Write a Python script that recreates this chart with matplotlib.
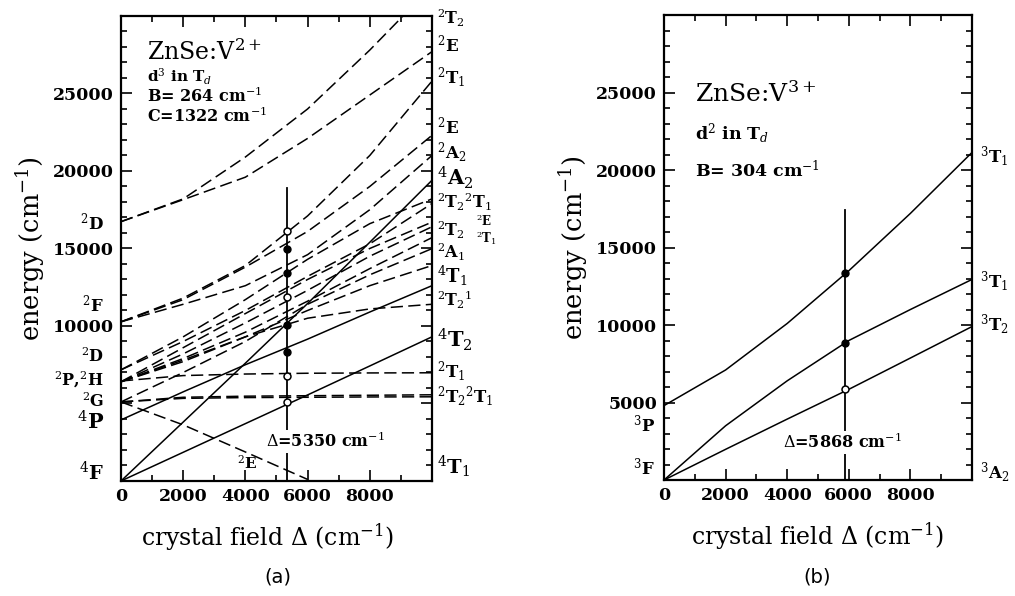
import matplotlib
matplotlib.use("Agg")
import matplotlib.pyplot as plt
from matplotlib.ticker import MultipleLocator

plt.rcParams["font.family"] = "DejaVu Serif"
plt.rcParams["mathtext.fontset"] = "dejavuserif"

# ---- panel (a): ZnSe:V2+, d3 in Td ----
xa = [0, 2000, 4000, 6000, 8000, 10000]
# quartets (solid)
a_4T2 = [0, 1850, 3700, 5550, 7420, 9300]
a_4A2 = [0, 3800, 7600, 11450, 15400, 19400]
a_4T1P = [3940, 5750, 7500, 9150, 10900, 12600]
# doublets (dashed)
xa_top = [0, 2000, 4000, 6000, 8000, 9070]
a_D2_T2 = [16730, 18200, 20900, 24000, 27800, 30000]
a_D2_E = [16730, 18150, 19600, 22100, 24900, 27700]
a_F_T1 = [10270, 11800, 13900, 17100, 21000, 25800]
a_F_E = [10270, 11700, 13800, 16100, 19000, 22300]
a_F_A2 = [10270, 11400, 12600, 14600, 17500, 21000]
a_D_T2 = [7170, 9300, 11700, 14300, 16600, 18200]
a_D_E = [7170, 9000, 11000, 13200, 15300, 17900]
a_H_T1 = [6400, 8600, 10800, 13000, 15000, 16700]
a_H_T2 = [6400, 8200, 10200, 12300, 14500, 16400]
a_H_E = [6400, 7900, 9600, 11600, 13700, 15700]
a_G_A1 = [5100, 7000, 9000, 11400, 13300, 14990]
a_H_T1b = [6400, 7700, 9300, 11000, 12600, 13900]
a_P_T1 = [6400, 7800, 9300, 10500, 11100, 11400]
a_flat_T1 = [6450, 6800, 6900, 6950, 6970, 6980]
a_G_T2 = [5100, 5400, 5470, 5500, 5530, 5560]
a_G_T1 = [5100, 5330, 5380, 5400, 5420, 5430]
xa_fall = [0, 2000, 4000, 6000]
a_G_E = [5100, 3620, 1870, 100]
a_delta = 5350
a_open = [16150, 11850, 6780, 5100]
a_filled = [14990, 13440, 10080, 8300]

# ---- panel (b): ZnSe:V3+, d2 in Td ----
xb = [0, 2000, 4000, 6000, 8000, 10000]
b_3T2 = [0, 1980, 3930, 5850, 7870, 9900]
b_3T1F = [0, 3500, 6400, 9000, 11000, 12940]
b_3T1P = [4800, 7100, 10100, 13500, 17200, 21130]
b_delta = 5868
b_open = [5840]
b_filled = [13330, 8870]

fig = plt.figure(figsize=(10.15, 5.96), dpi=100)
ax1 = fig.add_axes([0.1192, 0.1930, 0.3064, 0.7802])
ax2 = fig.add_axes([0.6542, 0.1946, 0.3034, 0.7802])

solid = dict(color="black", lw=1.1)
dash = dict(color="black", lw=1.1, dashes=(8, 3.5))

for ax in (ax1, ax2):
    ax.set_xlim(0, 10000)
    ax.set_ylim(0, 30000)
    ax.xaxis.set_major_locator(MultipleLocator(2000))
    ax.xaxis.set_minor_locator(MultipleLocator(1000))
    ax.yaxis.set_major_locator(MultipleLocator(5000))
    ax.yaxis.set_minor_locator(MultipleLocator(1000))
    ax.tick_params(which="both", direction="in", top=True, right=True, width=1.2)
    ax.tick_params(which="major", length=8, labelsize=12.5, pad=5)
    ax.tick_params(which="minor", length=4)
    ax.set_xticks([0, 2000, 4000, 6000, 8000])
    for sp in ax.spines.values():
        sp.set_linewidth(1.6)
    ax.set_xlabel(r"crystal field $\Delta$ (cm$^{-1}$)", fontsize=17, labelpad=12)
    ax.set_ylabel(r"energy (cm$^{-1}$)", fontsize=18.5, labelpad=4)
ax1.xaxis.label.set_x(0.47)

ax1.set_yticks([0, 5000, 10000, 15000, 20000, 25000])
ax1.set_yticklabels(["", "", "10000", "15000", "20000", "25000"])
ax2.set_yticks([5000, 10000, 15000, 20000, 25000])
for ax in (ax1, ax2):
    for lab in ax.get_xticklabels() + ax.get_yticklabels():
        lab.set_fontweight("bold")

# panel (a) curves
for ys in (a_4T2, a_4A2, a_4T1P):
    ax1.plot(xa, ys, **solid)
ax1.plot(xa_top, a_D2_T2, **dash)
for ys in (a_D2_E, a_F_T1, a_F_E, a_F_A2, a_D_T2, a_D_E, a_H_T1, a_H_T2,
           a_H_E, a_G_A1, a_H_T1b, a_P_T1, a_flat_T1, a_G_T2, a_G_T1):
    ax1.plot(xa, ys, **dash)
ax1.plot(xa_fall, a_G_E, **dash)

ax1.plot([a_delta, a_delta], [0, 18930], color="black", lw=1.3)
ax1.plot([a_delta] * len(a_open), a_open, "o", ms=5, mfc="white", mec="black", mew=1.1)
ax1.plot([a_delta] * len(a_filled), a_filled, "o", ms=5, color="black")
ax1.text(a_delta - 680, 2550, r"$\Delta$=5350 cm$^{-1}$", fontsize=11.5, fontweight="bold",
         va="center", bbox=dict(fc="white", ec="none", pad=1))
ax1.text(4050, 1150, r"$^2$E", fontsize=11, ha="center", va="center", fontweight="bold")

ax1.text(0.084, 0.905, r"ZnSe:V$^{2+}$", transform=ax1.transAxes, fontsize=17)
ax1.text(0.084, 0.858, r"d$^3$ in T$_d$", transform=ax1.transAxes, fontsize=11, fontweight="bold")
ax1.text(0.084, 0.816, r"B= 264 cm$^{-1}$", transform=ax1.transAxes, fontsize=11.5, fontweight="bold")
ax1.text(0.084, 0.771, r"C=1322 cm$^{-1}$", transform=ax1.transAxes, fontsize=11.5, fontweight="bold")

# state labels, left of (a)
left_a = [(r"$^2$D", 16670, 12), (r"$^2$F", 11370, 12), (r"$^2$D", 8000, 11.5),
          (r"$^2$P,$^2$H", 6500, 11.5), (r"$^2$G", 5120, 11.5), (r"$^4$P", 3800, 15),
          (r"$^4$F", 580, 14)]
for s, y, fs in left_a:
    ax1.text(-550, y, s, fontsize=fs, ha="right", va="center", fontweight="bold")

right_a = [(r"$^2$T$_2$", 29850, 11.5), (r"$^2$E", 28150, 12), (r"$^2$T$_1$", 26030, 12),
           (r"$^2$E", 22870, 12), (r"$^2$A$_2$", 21190, 12), (r"$^4$A$_2$", 19570, 15),
           (r"$^2$T$_2$$^2$T$_1$", 17950, 11.5), (r"$^2$T$_2$", 16150, 11.5),
           (r"$^2$A$_1$", 14750, 11.5), (r"$^4$T$_1$", 13200, 13),
           (r"$^2$T$_2$$^1$", 11650, 11.5), (r"$^4$T$_2$", 9110, 15),
           (r"$^2$T$_1$", 7040, 12), (r"$^2$T$_2$$^2$T$_1$", 5430, 12),
           (r"$^4$T$_1$", 900, 14)]
for s, y, fs in right_a:
    ax1.text(10150, y, s, fontsize=fs, ha="left", va="center", fontweight="bold")
ax1.text(11400, 16800, r"$^2$E", fontsize=8.5, ha="left", va="center", fontweight="bold")
ax1.text(11400, 15650, r"$^2$T$_1$", fontsize=8.5, ha="left", va="center", fontweight="bold")

# panel (b) curves
for ys in (b_3T2, b_3T1F, b_3T1P):
    ax2.plot(xb, ys, **solid)
ax2.plot([b_delta, b_delta], [0, 17430], color="black", lw=1.3)
ax2.plot([b_delta] * len(b_open), b_open, "o", ms=5, mfc="white", mec="black", mew=1.1)
ax2.plot([b_delta] * len(b_filled), b_filled, "o", ms=5, color="black")
ax2.text(b_delta - 2000, 2420, r"$\Delta$=5868 cm$^{-1}$", fontsize=11.5, fontweight="bold",
         va="center", bbox=dict(fc="white", ec="none", pad=1))

ax2.text(0.1, 0.813, r"ZnSe:V$^{3+}$", transform=ax2.transAxes, fontsize=18)
ax2.text(0.1, 0.732, r"d$^2$ in T$_d$", transform=ax2.transAxes, fontsize=12.5, fontweight="bold")
ax2.text(0.1, 0.652, r"B= 304 cm$^{-1}$", transform=ax2.transAxes, fontsize=12.5, fontweight="bold")

for s, y in [(r"$^3$P", 3580), (r"$^3$F", 800)]:
    ax2.text(-300, y, s, fontsize=12, ha="right", va="center", fontweight="bold")
for s, y in [(r"$^3$T$_1$", 20870), (r"$^3$T$_1$", 12800), (r"$^3$T$_2$", 10030),
             (r"$^3$A$_2$", 480)]:
    ax2.text(10250, y, s, fontsize=12, ha="left", va="center", fontweight="bold")

fig.text(0.274, 0.022, "(a)", fontsize=14, family="DejaVu Sans", ha="center")
fig.text(0.805, 0.022, "(b)", fontsize=14, family="DejaVu Sans", ha="center")

fig.savefig("out.png", dpi=100, facecolor="white")
